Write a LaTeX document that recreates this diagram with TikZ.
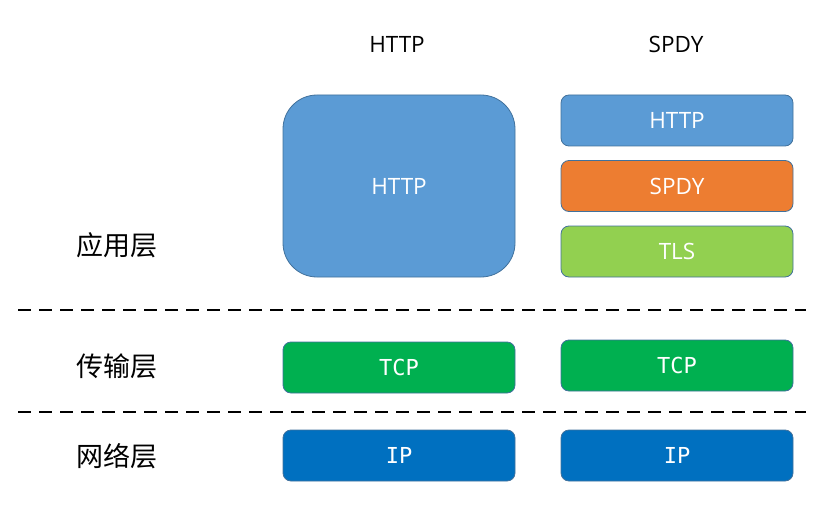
\documentclass[tikz,border=0pt]{standalone}
\usepackage{fontspec}
\setmainfont{Open Sans}
\newfontfamily\cjk{Noto Sans CJK SC}
\newfontfamily\monofont{DejaVu Sans Mono}
\definecolor{httpblue}{HTML}{5B9BD5}
\definecolor{spdyorange}{HTML}{ED7D31}
\definecolor{tlsgreen}{HTML}{92D050}
\definecolor{tcpgreen}{HTML}{00B050}
\definecolor{ipblue}{HTML}{0070C0}
\definecolor{edgeblue}{HTML}{41719C}
\begin{document}
\begin{tikzpicture}[x=1pt,y=-1pt,
  layerbox/.style={draw=edgeblue, line width=0.8pt, rounded corners=8pt,
    minimum width=232pt, minimum height=51pt, inner sep=0pt,
    text=white, font=\fontsize{22.5}{26}\selectfont},
  monobox/.style={layerbox, font=\monofont\fontsize{22}{26}\selectfont},
  layerlabel/.style={font=\cjk\fontsize{27}{31}\selectfont, inner sep=0pt},
  header/.style={font=\fontsize{22.5}{26}\selectfont, inner sep=0pt},
  divider/.style={line width=2.8pt, dash pattern=on 13pt off 8pt}]
\useasboundingbox (0,0) rectangle (826,505);
% column headers
\node[header] (hHttp) at (397,44) {HTTP};
\node[header] (hSpdy) at (676,44) {SPDY};
% layer names
\node[layerlabel] (app) at (117,245) {应用层};
\node[layerlabel] (trans) at (117,366) {传输层};
\node[layerlabel] (net) at (117,456) {网络层};
% HTTP stack
\node[layerbox, fill=httpblue, rounded corners=34pt, minimum height=182pt] (http) at (399,186) {HTTP};
\node[monobox, fill=tcpgreen] (tcpA) at (399,367.5) {TCP};
\node[monobox, fill=ipblue] (ipA) at (399,455.5) {IP};
% SPDY stack
\node[layerbox, fill=httpblue] (httpS) at (677,120.5) {HTTP};
\node[layerbox, fill=spdyorange] (spdy) at (677,186) {SPDY};
\node[layerbox, fill=tlsgreen] (tls) at (677,251.5) {TLS};
\node[monobox, fill=tcpgreen] (tcpB) at (677,365.5) {TCP};
\node[monobox, fill=ipblue] (ipB) at (677,455.5) {IP};
% layer boundaries
\coordinate (d1l) at (18,310); \coordinate (d1r) at (806,310);
\coordinate (d2l) at (18,412); \coordinate (d2r) at (806,412);
\draw[divider] (d1l) -- (d1r);
\draw[divider] (d2l) -- (d2r);
\end{tikzpicture}
\end{document}
